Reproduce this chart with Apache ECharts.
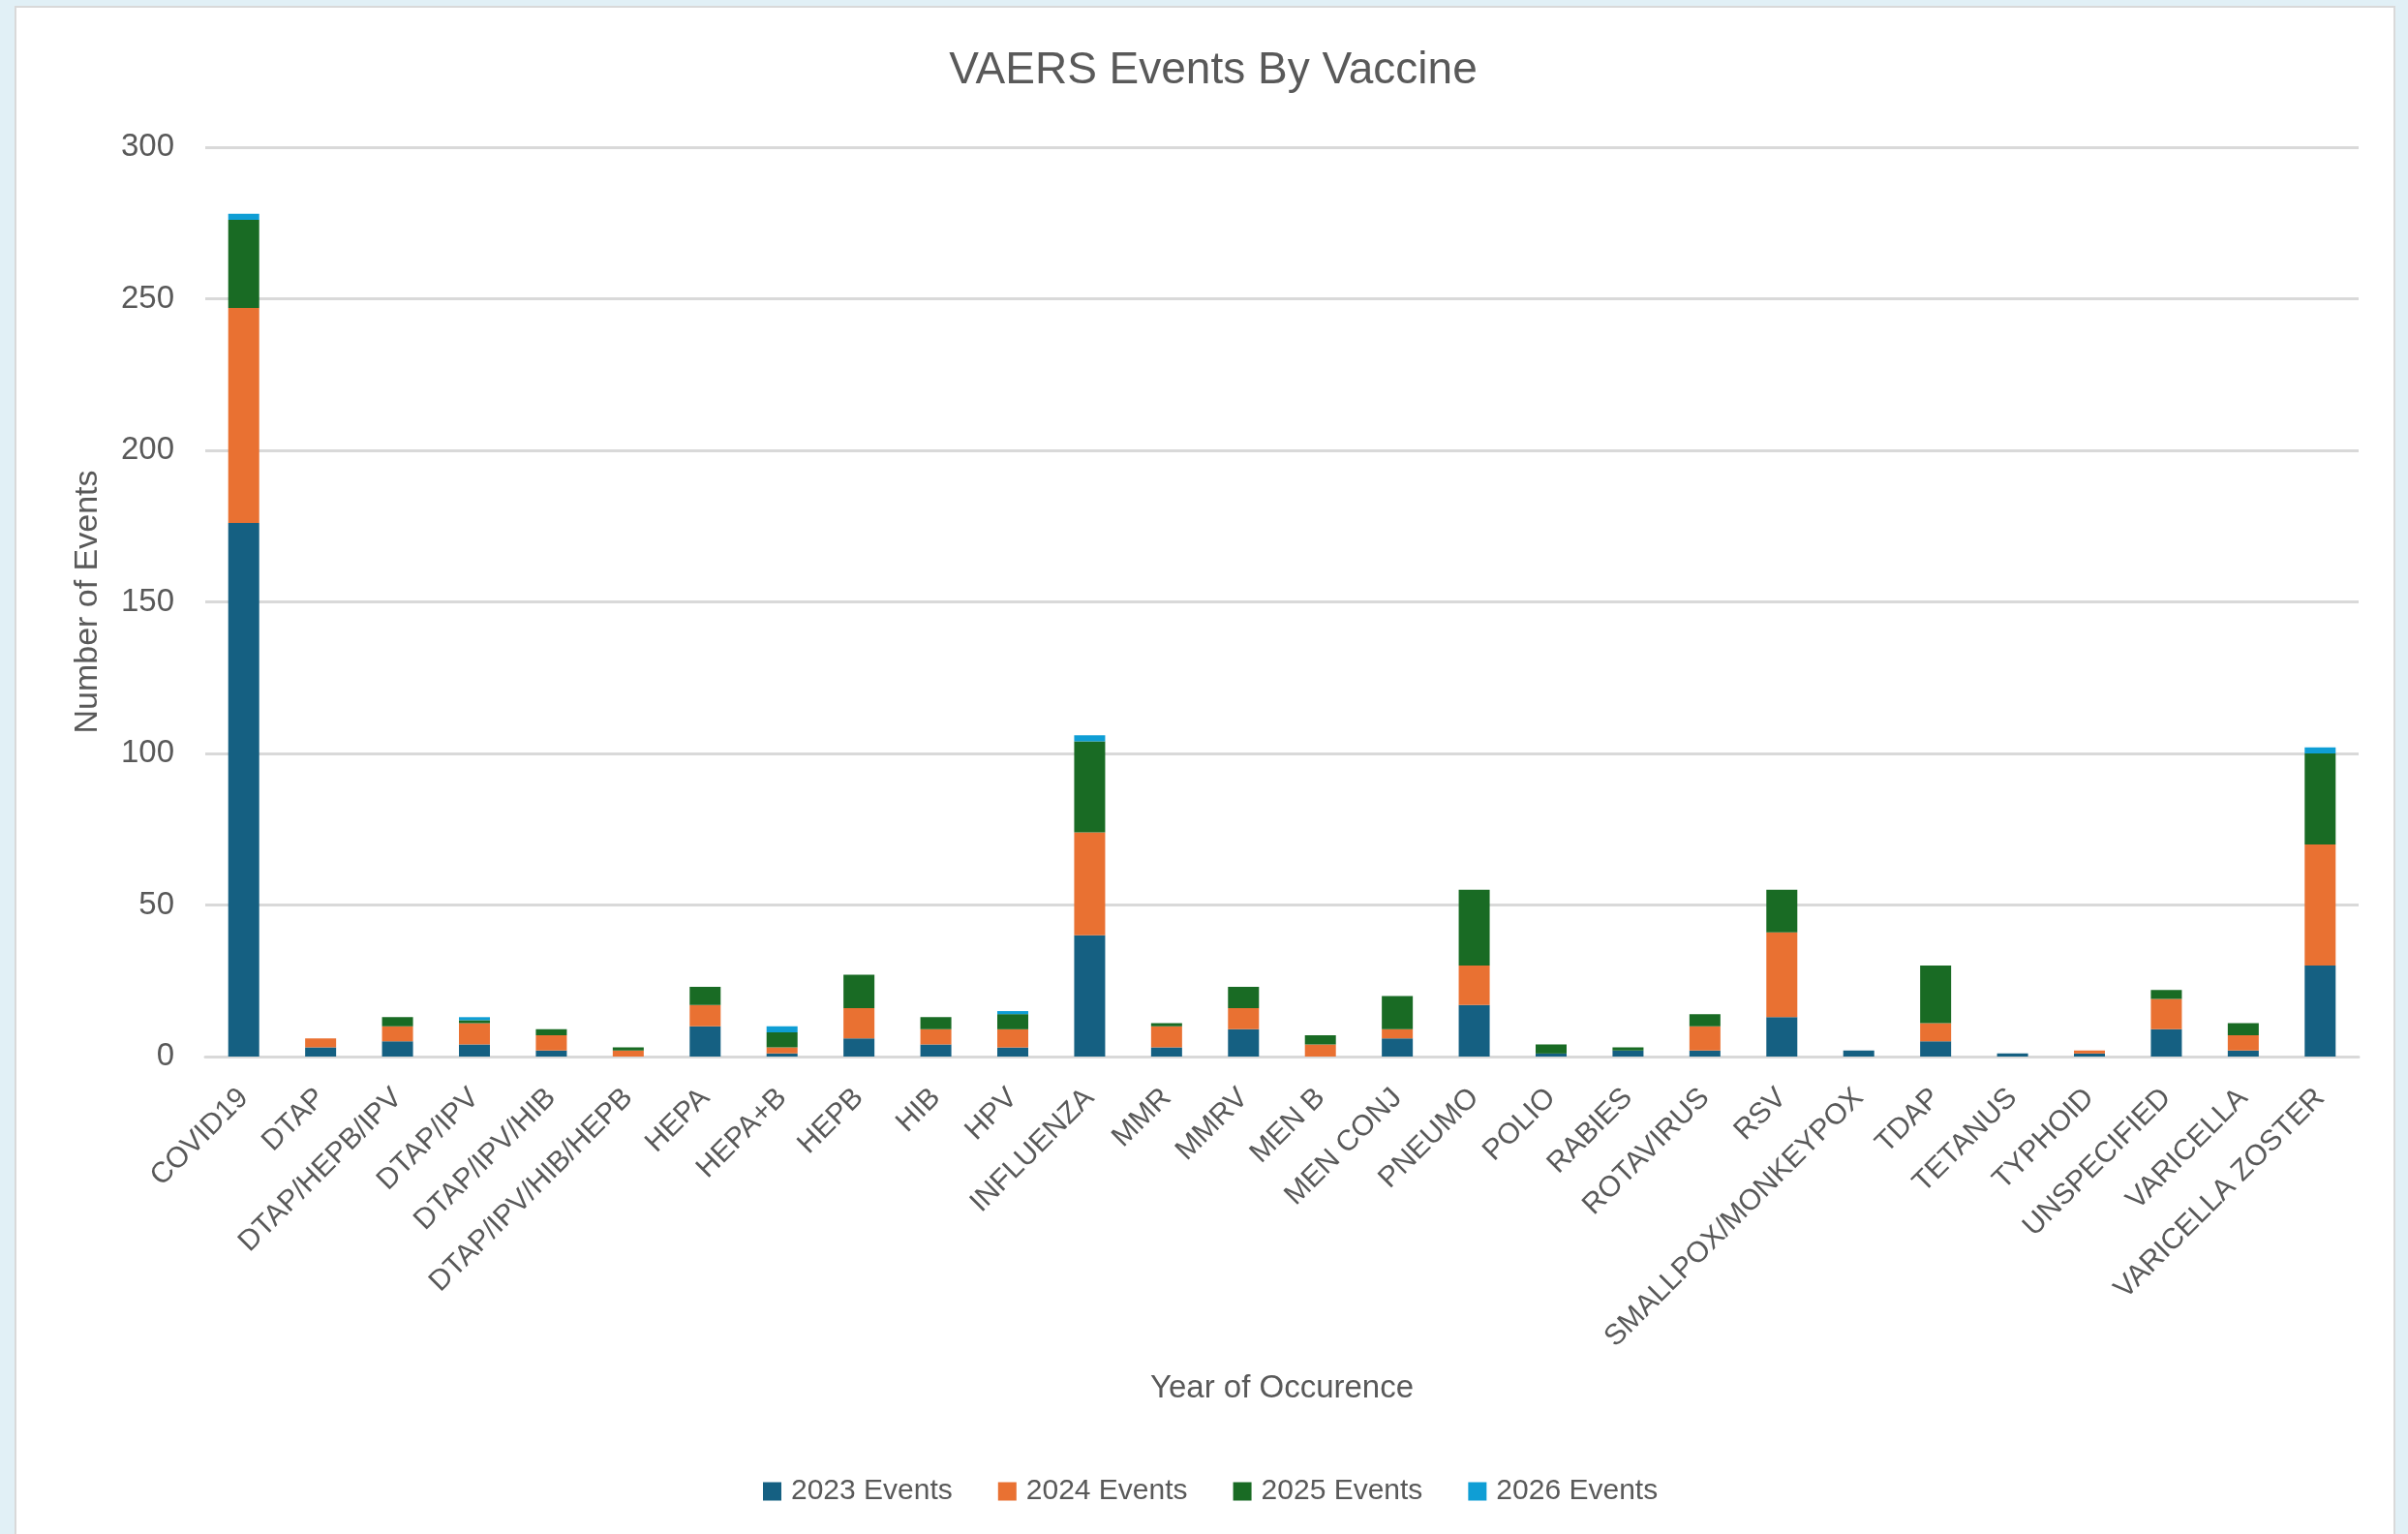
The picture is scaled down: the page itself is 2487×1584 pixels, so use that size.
<!DOCTYPE html>
<html>
<head>
<meta charset="utf-8">
<title>VAERS Events By Vaccine</title>
<script src="https://cdn.jsdelivr.net/npm/echarts@6/dist/echarts.min.js"></script>
<style>
  html, body { margin: 0; padding: 0; width: 2487px; height: 1584px; background: #E1F0F6; overflow: hidden; }
  #panel { position: absolute; left: 15px; top: 6px; width: 2459px; height: 1590px; background: #FFFFFF;
           border: 2px solid #D9D9D9; box-sizing: border-box; }
  #chart { position: absolute; left: 0; top: 0; width: 2487px; height: 1584px; }
</style>
</head>
<body>
<div id="panel"></div>
<div id="chart"></div>
<script>
// Vaccine categories along the x axis
const categories = [
  'COVID19', 'DTAP', 'DTAP/HEPB/IPV', 'DTAP/IPV', 'DTAP/IPV/HIB', 'DTAP/IPV/HIB/HEPB',
  'HEPA', 'HEPA+B', 'HEPB', 'HIB', 'HPV', 'INFLUENZA', 'MMR', 'MMRV', 'MEN B',
  'MEN CONJ', 'PNEUMO', 'POLIO', 'RABIES', 'ROTAVIRUS', 'RSV', 'SMALLPOX/MONKEYPOX',
  'TDAP', 'TETANUS', 'TYPHOID', 'UNSPECIFIED', 'VARICELLA', 'VARICELLA ZOSTER'
];

// Event counts per year of occurrence
const events2023 = [176, 3, 5, 4, 2, 0, 10, 1, 6, 4, 3, 40, 3, 9, 0, 6, 17, 1, 2, 2, 13, 2, 5, 1, 1, 9, 2, 30];
const events2024 = [71, 3, 5, 7, 5, 2, 7, 2, 10, 5, 6, 34, 7, 7, 4, 3, 13, 0, 0, 8, 28, 0, 6, 0, 1, 10, 5, 40];
const events2025 = [29, 0, 3, 1, 2, 1, 6, 5, 11, 4, 5, 30, 1, 7, 3, 11, 25, 3, 1, 4, 14, 0, 19, 0, 0, 3, 4, 30];
const events2026 = [2, 0, 0, 1, 0, 0, 0, 2, 0, 0, 1, 2, 0, 0, 0, 0, 0, 0, 0, 0, 0, 0, 0, 0, 0, 0, 0, 2];

// Y axis tick settings
const yMin = 0;
const yMax = 300;
const yStep = 50;

const seriesDefs = [
  { name: '2023 Events', data: events2023, color: '#156082' },
  { name: '2024 Events', data: events2024, color: '#E97132' },
  { name: '2025 Events', data: events2025, color: '#196B24' },
  { name: '2026 Events', data: events2026, color: '#0F9ED5' }
];

const FONT = '"Liberation Sans", Arial, sans-serif';
const TEXT = '#595959';

const chart = echarts.init(document.getElementById('chart'), null, { renderer: 'canvas' });

chart.setOption({
  animation: false,
  backgroundColor: 'transparent',
  textStyle: { fontFamily: FONT, color: TEXT },
  title: {
    text: 'VAERS Events By Vaccine',
    left: 1248,
    textAlign: 'center',
    top: 45,
    textStyle: { fontFamily: FONT, fontSize: 46, fontWeight: 'normal', color: TEXT }
  },
  legend: {
    left: 788,
    top: 1525,
    padding: 0,
    itemWidth: 19,
    itemHeight: 19,
    itemGap: 47,
    icon: 'rect',
    textStyle: { fontFamily: FONT, fontSize: 30, color: TEXT, padding: [0, 0, 0, 5] },
    data: seriesDefs.map(s => s.name)
  },
  grid: { left: 212, right: 51, top: 152, bottom: 493, containLabel: false },
  xAxis: {
    type: 'category',
    data: categories,
    name: 'Year of Occurence',
    nameLocation: 'middle',
    nameGap: 326,
    nameTextStyle: { fontFamily: FONT, fontSize: 33, color: TEXT },
    axisLine: { show: true, lineStyle: { color: '#D9D9D9', width: 3 } },
    axisTick: { show: false },
    axisLabel: { interval: 0, rotate: 45, margin: 38, fontFamily: FONT, fontSize: 30, color: TEXT }
  },
  yAxis: {
    type: 'value',
    min: yMin,
    max: yMax,
    interval: yStep,
    name: 'Number of Events',
    nameLocation: 'middle',
    nameGap: 104,
    nameTextStyle: { fontFamily: FONT, fontSize: 34, color: TEXT },
    axisLine: { show: false },
    axisTick: { show: false },
    axisLabel: { margin: 32, fontFamily: FONT, fontSize: 33, color: TEXT },
    splitLine: { lineStyle: { color: '#D9D9D9', width: 3 } }
  },
  series: seriesDefs.map(s => ({
    name: s.name,
    type: 'bar',
    stack: 'total',
    data: s.data,
    barWidth: 32,
    itemStyle: { color: s.color }
  }))
});
</script>
</body>
</html>
